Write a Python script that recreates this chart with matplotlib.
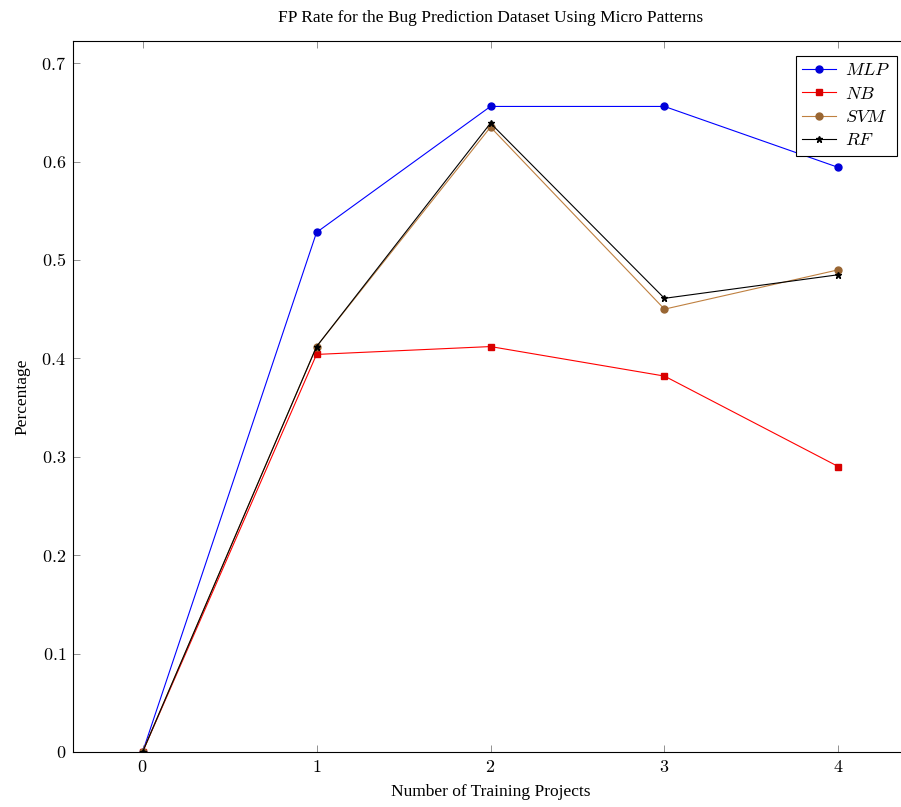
import numpy as np
import matplotlib
matplotlib.use("Agg")
import matplotlib.pyplot as plt

plt.rcParams['font.family'] = ['Liberation Serif', 'DejaVu Serif']
plt.rcParams['mathtext.fontset'] = 'cm'

projects = [0, 1, 2, 3, 4]
mlp = [0, 0.528, 0.656, 0.656, 0.594]
nb = [0, 0.404, 0.412, 0.382, 0.290]
svm = [0, 0.412, 0.635, 0.450, 0.490]
rf = [0, 0.412, 0.639, 0.461, 0.485]

W, H = 901, 807
fig = plt.figure(figsize=(W / 100, H / 100), dpi=100)
# axes runs past the right edge of the picture, like the cropped original
ax = fig.add_axes([73 / W, 55 / H, 835 / W, 711 / H])

brown = (0.75, 0.5, 0.25)
ax.plot(projects, mlp, color='blue', lw=0.8, marker='o', ms=5,
        mfc=(0, 0, 0.85), mec=(0, 0, 0.85), label=r'$MLP$')
ax.plot(projects, nb, color='red', lw=0.8, marker='s', ms=5,
        mfc=(0.85, 0, 0), mec=(0.85, 0, 0), label=r'$NB$')
ax.plot(projects, svm, color=brown, lw=0.8, marker='o', ms=5,
        mfc=(0.6, 0.4, 0.2), mec=(0.6, 0.4, 0.2), label=r'$SVM$')
ax.plot(projects, rf, color='black', lw=0.8, marker='*', ms=5,
        label=r'$RF$')

ax.set_xlim(-0.4, 4.4)
ax.set_ylim(0, 0.7225)
ax.set_xticks(projects)
ax.set_xticklabels([r'$%d$' % p for p in projects])
yt = [0, 0.1, 0.2, 0.3, 0.4, 0.5, 0.6, 0.7]
ax.set_yticks(yt)
ax.set_yticklabels(['$0$'] + [r'$%.1f$' % v for v in yt[1:]])
ax.tick_params(direction='in', length=5, width=0.6, color='#808080',
               top=True, right=True, labelsize=13, pad=5)
for s in ax.spines.values():
    s.set_linewidth(0.8)

ax.set_title('FP Rate for the Bug Prediction Dataset Using Micro Patterns',
             fontsize=12.5, pad=14)
ax.set_xlabel('Number of Training Projects', fontsize=12.5, labelpad=6)
ax.set_ylabel('Percentage', fontsize=12.5, labelpad=8)

leg = ax.legend(loc='upper right', bbox_to_anchor=(897 / W, 1 - 56 / H),
                bbox_transform=fig.transFigure, fontsize=13, fancybox=False,
                edgecolor='black', framealpha=1, handlelength=1.9,
                handletextpad=0.5, borderaxespad=0, labelspacing=0.35,
                borderpad=0.35)
leg.get_frame().set_linewidth(0.8)

fig.savefig('out.png', dpi=100)
